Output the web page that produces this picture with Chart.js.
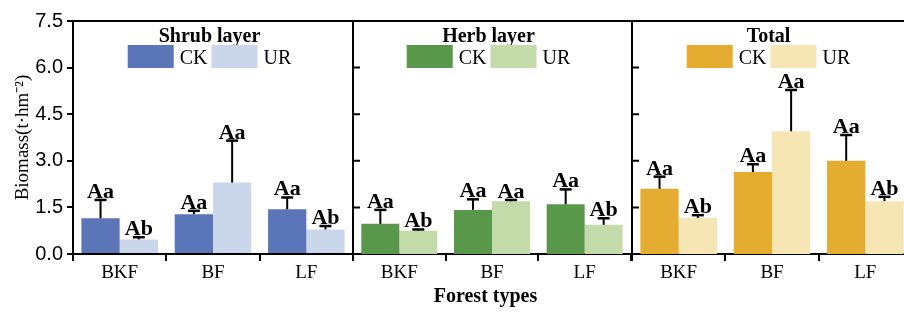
<!DOCTYPE html>
<html>
<head>
<meta charset="utf-8">
<script src="https://cdn.jsdelivr.net/npm/chart.js@4.4.0/dist/chart.umd.min.js"></script>
<style>
html, body { margin:0; padding:0; background:#fff; }
#wrap { position:relative; width:904px; height:312px; overflow:hidden; }
canvas { position:absolute; top:0; }
</style>
</head>
<body>
<div id="wrap">
  <canvas id="c1" width="353" height="312" style="left:0px"></canvas>
  <canvas id="c2" width="298" height="312" style="left:343px"></canvas>
  <canvas id="c3" width="290" height="312" style="left:622px"></canvas>
</div>
<script>
// data
const categories = ['BKF', 'BF', 'LF'];
const yTicks = [0, 1.5, 3, 4.5, 6, 7.5];
const seriesNames = ['CK', 'UR'];

const shrubCK = [1.15, 1.28, 1.44];
const shrubCKsd = [0.59, 0.11, 0.38];
const shrubUR = [0.47, 2.30, 0.79];
const shrubURsd = [0.07, 1.35, 0.11];

const herbCK = [0.97, 1.42, 1.60];
const herbCKsd = [0.45, 0.34, 0.48];
const herbUR = [0.75, 1.70, 0.94];
const herbURsd = [0.04, 0.04, 0.21];

const totalCK = [2.10, 2.64, 3.00];
const totalCKsd = [0.39, 0.25, 0.83];
const totalUR = [1.16, 3.95, 1.70];
const totalURsd = [0.09, 1.33, 0.14];

const ckLetters = ['Aa', 'Aa', 'Aa'];
const urLetters = ['Ab', 'Aa', 'Ab'];

const SERIF = '"Liberation Serif", "Times New Roman", serif';
const SANS = '"Liberation Sans", Arial, sans-serif';

// frame, inner ticks, error bars, letters, panel title + legend
const panelDeco = {
  id: 'panelDeco',
  afterDatasetsDraw(chart, args, opts) {
    const ctx = chart.ctx;
    const a = chart.chartArea;
    const y = chart.scales.y;
    ctx.save();
    ctx.strokeStyle = '#000';
    ctx.fillStyle = '#000';
    ctx.lineWidth = 2;
    ctx.beginPath();
    ctx.moveTo(a.left, a.bottom);
    ctx.lineTo(a.left, a.top);
    ctx.lineTo(a.right + 2, a.top);
    if (opts.innerTicks) {
      yTicks.forEach(v => {
        const py = y.getPixelForValue(v);
        ctx.moveTo(a.left, py);
        ctx.lineTo(a.left + 7, py);
      });
    }
    ctx.stroke();

    // error bars (upper only) and letters
    chart.data.datasets.forEach((ds, di) => {
      const meta = chart.getDatasetMeta(di);
      meta.data.forEach((bar, i) => {
        const top = y.getPixelForValue(ds.data[i] + ds.err[i]);
        ctx.lineWidth = 2;
        ctx.beginPath();
        ctx.moveTo(bar.x, bar.y);
        ctx.lineTo(bar.x, top);
        ctx.stroke();
        ctx.lineWidth = 2.5;
        ctx.beginPath();
        ctx.moveTo(bar.x - 6, top);
        ctx.lineTo(bar.x + 6, top);
        ctx.stroke();
        ctx.font = 'bold 22px ' + SERIF;
        ctx.textAlign = 'center';
        ctx.textBaseline = 'alphabetic';
        ctx.fillText(ds.letters[i], bar.x, top - 2);
      });
    });

    // title + legend
    const cx = (a.left + a.right) / 2 + opts.shift;
    ctx.font = 'bold 20px ' + SERIF;
    ctx.textAlign = 'center';
    ctx.fillText(opts.title, cx, a.top + 20.5);

    ctx.font = '20px ' + SERIF;
    const items = chart.data.datasets.map(ds => ({ label: ds.label, color: ds.backgroundColor, w: ctx.measureText(ds.label).width }));
    let total = 0;
    items.forEach((it, k) => { total += 46 + 6 + it.w + (k > 0 ? 4 : 0); });
    let x = cx - total / 2;
    ctx.textAlign = 'left';
    items.forEach(it => {
      ctx.fillStyle = it.color;
      ctx.fillRect(x, a.top + 24, 46, 23);
      ctx.fillStyle = '#000';
      ctx.fillText(it.label, x + 52, a.top + 43);
      x += 46 + 6 + it.w + 4;
    });

    if (opts.xTitle) {
      ctx.font = 'bold 20px ' + SERIF;
      ctx.textAlign = 'center';
      ctx.fillText(opts.xTitle, cx + opts.xTitleShift, 302);
    }
    ctx.restore();
  }
};

function makePanel(id, title, ck, ckSd, ur, urSd, colors, first, pad, extra) {
  const ctx = document.getElementById(id).getContext('2d');
  return new Chart(ctx, {
    type: 'bar',
    data: {
      labels: categories,
      datasets: [
        { label: seriesNames[0], data: ck, err: ckSd, letters: ckLetters, backgroundColor: colors[0] },
        { label: seriesNames[1], data: ur, err: urSd, letters: urLetters, backgroundColor: colors[1] }
      ]
    },
    options: {
      responsive: false,
      animation: false,
      devicePixelRatio: 1,
      layout: { padding: pad },
      datasets: { bar: { borderWidth: 0, categoryPercentage: 0.82, barPercentage: 1 } },
      scales: {
        x: {
          afterFit: s => { s.height = 58; },
          grid: { display: true, drawOnChartArea: false, drawTicks: true, tickLength: 7, color: '#000', lineWidth: 2 },
          border: { display: true, color: '#000', width: 2 },
          ticks: { color: '#000', font: { family: SERIF, size: 19 }, padding: 1 }
        },
        y: {
          display: first,
          min: 0,
          max: 7.5,
          afterFit: s => { s.width = first ? 73 : 0; },
          afterBuildTicks: s => { s.ticks = yTicks.map(v => ({ value: v })); },
          grid: { drawOnChartArea: false, drawTicks: true, tickLength: 6, color: '#000', lineWidth: 2 },
          border: { display: false },
          ticks: { color: '#000', padding: 4, font: { family: SANS, size: 20 }, callback: v => Number(v).toFixed(1) },
          title: {
            display: first,
            text: 'Biomass(t\u00b7hm\u207b\u00b2)',
            color: '#000',
            font: { family: SERIF, size: 19 },
            padding: { top: 12, bottom: 0 }
          }
        }
      },
      plugins: {
        legend: { display: false },
        tooltip: { enabled: false },
        panelDeco: Object.assign({ title: title, innerTicks: !first, shift: -3.5 }, extra)
      }
    },
    plugins: [panelDeco]
  });
}

makePanel('c1', 'Shrub layer', shrubCK, shrubCKsd, shrubUR, shrubURsd,
  ['#5b76b8', '#cad6ea'], true, { top: 21, left: 0, right: 0, bottom: 0 }, {});
makePanel('c2', 'Herb layer', herbCK, herbCKsd, herbUR, herbURsd,
  ['#59984a', '#c2dba8'], false, { top: 21, left: 10, right: 10, bottom: 0 }, { xTitle: 'Forest types', xTitleShift: -3 });
makePanel('c3', 'Total', totalCK, totalCKsd, totalUR, totalURsd,
  ['#e4ac30', '#f5e6b3'], false, { top: 21, left: 10, right: 0, bottom: 0 }, {});
</script>
</body>
</html>
